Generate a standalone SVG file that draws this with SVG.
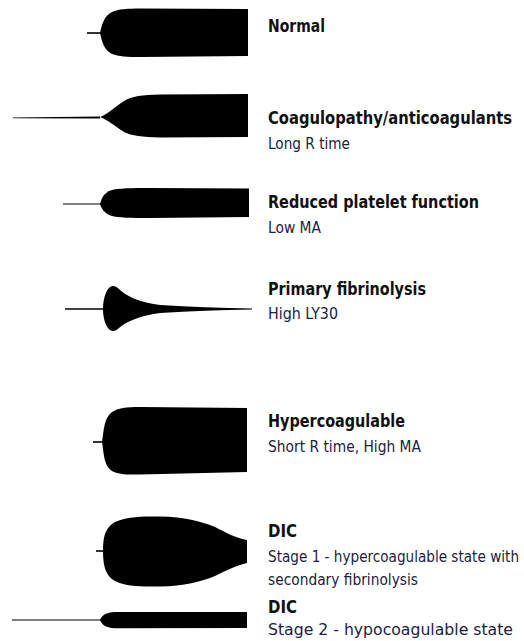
<svg xmlns="http://www.w3.org/2000/svg" width="524" height="641" viewBox="0 0 524 641">
<style>
.trace{fill:#000;stroke:none}
.tail{stroke:#000;fill:none;stroke-linecap:butt}
.t{font-family:"DejaVu Sans Condensed","DejaVu Sans",sans-serif;font-weight:bold;font-size:18px;fill:#111}
.s{font-family:"DejaVu Sans Condensed","DejaVu Sans",sans-serif;font-size:15.5px;fill:#1c2140}
</style>
<rect width="524" height="641" fill="#fff"/>
<g id="normal">
<line class="tail" x1="87" y1="33" x2="101" y2="33" stroke-width="1.6"/>
<path class="trace" d="M100,33 C102,24 104,16 112,12 C118,9 128,8.5 140,8.5 L248,9 L248,56 L140,57 C128,57 118,56.5 112,54 C104,50 102,42 100,33 Z"/>
<text class="t" x="268" y="32" textLength="57" lengthAdjust="spacingAndGlyphs">Normal</text>
</g>
<g id="coagulopathy">
<path class="trace" d="M13,117.4 L100,116.6 L100,118.4 L13,118.2 Z"/>
<path class="trace" d="M100,117 C108,114 116,106 124,101 C132,96 142,95 160,94.5 L248,94 L248,137 L160,137.5 C142,137 132,136 124,132 C116,127 108,120 100,117 Z"/>
<text class="t" x="268" y="124" style="font-size:16.8px" textLength="244" lengthAdjust="spacingAndGlyphs">Coagulopathy/anticoagulants</text>
<text class="s" x="268" y="149" textLength="82" lengthAdjust="spacingAndGlyphs">Long R time</text>
</g>
<g id="platelet">
<line class="tail" x1="63" y1="204" x2="101" y2="204" stroke-width="1.1"/>
<path class="trace" d="M100,204 C102,196 106,191 114,189.5 C122,188 140,188 150,188 L249,188.5 L249,217 L150,218 C140,218 122,218 114,216.5 C106,215 102,210 100,204 Z"/>
<text class="t" x="268" y="208" textLength="211" lengthAdjust="spacingAndGlyphs">Reduced platelet function</text>
<text class="s" x="268" y="233" textLength="53" lengthAdjust="spacingAndGlyphs">Low MA</text>
</g>
<g id="fibrinolysis">
<line class="tail" x1="65" y1="309" x2="104" y2="309" stroke-width="1.4"/>
<path class="trace" d="M103,309 C103,299 106,290 110,287 C113,285 116,286 119,289 C126,296 138,302 160,305 C190,307 220,308 252,308.6 L252,309.4 C220,310 190,311 160,313 C138,316 126,322 119,328 C116,331 113,332 110,330 C106,327 103,319 103,309 Z"/>
<text class="t" x="268" y="295" textLength="158" lengthAdjust="spacingAndGlyphs">Primary fibrinolysis</text>
<text class="s" x="268" y="319" textLength="70" lengthAdjust="spacingAndGlyphs">High LY30</text>
</g>
<g id="hypercoagulable">
<line class="tail" x1="93" y1="442" x2="103" y2="442" stroke-width="1.6"/>
<path class="trace" d="M102,442 C104,429 104,418 112,412 C118,408 126,407 140,407 L247,408 L247,472 L140,474.5 C126,475 118,474 112,471 C104,466 104,455 102,442 Z"/>
<text class="t" x="268" y="427" textLength="137" lengthAdjust="spacingAndGlyphs">Hypercoagulable</text>
<text class="s" x="268" y="452" textLength="153" lengthAdjust="spacingAndGlyphs">Short R time, High MA</text>
</g>
<g id="dic1">
<line class="tail" x1="96" y1="551" x2="104" y2="551" stroke-width="1.6"/>
<path class="trace" d="M103,551 C103,535 106,527 115,522 C125,517 140,516 160,516.5 C185,517 200,521 215,527 C225,532 235,538 247,540 L247,563 C235,566 225,571 215,576 C200,582 185,586 160,586.5 C140,587 125,586 115,581 C106,576 103,567 103,551 Z"/>
<text class="t" x="268" y="537" textLength="29" lengthAdjust="spacingAndGlyphs">DIC</text>
<text class="s" x="268" y="562" style="font-size:15px" textLength="251" lengthAdjust="spacingAndGlyphs">Stage 1 - hypercoagulable state with</text>
<text class="s" x="268" y="585" textLength="150" lengthAdjust="spacingAndGlyphs">secondary fibrinolysis</text>
</g>
<g id="dic2">
<line class="tail" x1="12" y1="620" x2="101" y2="620" stroke-width="1.1"/>
<path class="trace" d="M100,620 C102,615 106,612.5 115,612 L247,612 L247,628 L115,628.3 C106,628 102,625 100,620 Z"/>
<text class="t" x="268" y="613" textLength="29" lengthAdjust="spacingAndGlyphs">DIC</text>
<text class="s" x="268" y="635" textLength="245" lengthAdjust="spacingAndGlyphs">Stage 2 - hypocoagulable state</text>
</g>
</svg>
